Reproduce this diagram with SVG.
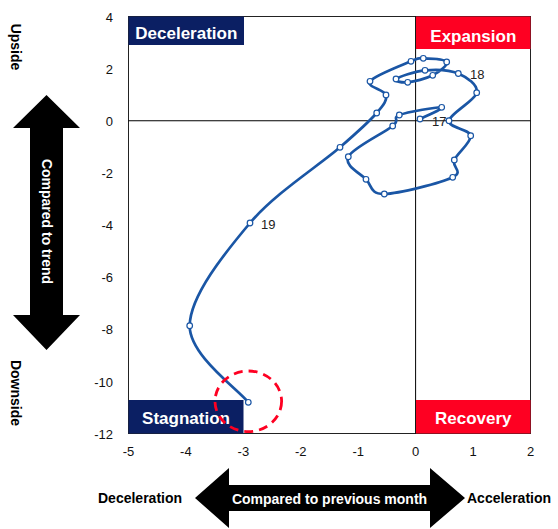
<svg xmlns="http://www.w3.org/2000/svg" width="558" height="529" viewBox="0 0 558 529">
<style>
.tick{font-family:"Liberation Sans",Arial,sans-serif;font-size:13px;fill:#111}
.box{font-family:"Liberation Sans",Arial,sans-serif;font-size:17px;font-weight:bold;fill:#fff;text-anchor:middle}
.lbl{font-family:"Liberation Sans",Arial,sans-serif;font-size:14px;font-weight:bold;fill:#000}
.wl{font-family:"Liberation Sans",Arial,sans-serif;font-size:14px;font-weight:bold;fill:#fff;text-anchor:middle;dominant-baseline:central}
.pt{fill:#fff;stroke:#1a56a5;stroke-width:1.2}
.yr{font-family:"Liberation Sans",Arial,sans-serif;font-size:13px;fill:#222}
</style>
<rect width="558" height="529" fill="#fff"/>
<g id="plot">
<rect x="128.5" y="16.5" width="402" height="417" fill="#fff" stroke="#222" stroke-width="1"/>
<line x1="415.6" y1="16.5" x2="415.6" y2="433.5" stroke="#000" stroke-width="1"/>
<line x1="128.5" y1="120.75" x2="530.5" y2="120.75" stroke="#000" stroke-width="1"/>
</g>
<g id="yticks" class="tick" text-anchor="end">
<text x="113" y="22">4</text>
<text x="113" y="74">2</text>
<text x="113" y="126">0</text>
<text x="113" y="178">-2</text>
<text x="113" y="230">-4</text>
<text x="113" y="282">-6</text>
<text x="113" y="334">-8</text>
<text x="113" y="387">-10</text>
<text x="113" y="439">-12</text>
</g>
<g id="xticks" class="tick" text-anchor="middle">
<text x="128.5" y="456">-5</text>
<text x="185.9" y="456">-4</text>
<text x="243.4" y="456">-3</text>
<text x="300.8" y="456">-2</text>
<text x="358.2" y="456">-1</text>
<text x="415.6" y="456">0</text>
<text x="473.1" y="456">1</text>
<text x="530.5" y="456">2</text>
</g>
<g id="deceleration-box">
<rect x="128.5" y="16.5" width="115.5" height="28.5" fill="#0b1f63"/>
<text class="box" x="186.3" y="39">Deceleration</text>
</g>
<g id="expansion-box">
<rect x="416" y="16.5" width="114.5" height="32.5" fill="#fe0022"/>
<text class="box" x="473.3" y="41.5">Expansion</text>
</g>
<g id="stagnation-box">
<rect x="128.5" y="400" width="115" height="33.5" fill="#0b1f63"/>
<text class="box" x="186" y="424">Stagnation</text>
</g>
<g id="recovery-box">
<rect x="416" y="400" width="114.5" height="33.5" fill="#fe0022"/>
<text class="box" x="473.3" y="424">Recovery</text>
</g>
<g id="connectors">
<path fill="none" stroke="#1a56a5" stroke-width="2.7" stroke-linejoin="round" stroke-linecap="round" d="M420,119 C423.62,117.05 445.15,107.97 441.7,107.3 C438.25,106.63 407.47,111.88 399.3,115 C391.13,118.12 401.2,119.05 392.7,126 C384.2,132.95 352.75,147.82 348.3,156.7 C343.85,165.58 360,173.08 366,179.3 C372,185.52 369.85,194.33 384.3,194 C398.75,193.67 441.03,182.97 452.7,177.3 C464.37,171.63 451.3,166.93 454.3,160 C457.3,153.07 471.58,142.25 470.7,135.7 C469.82,129.15 448,127.87 449,120.7 C450,113.53 475.15,100.57 476.7,92.7 C478.25,84.83 466.92,77.23 458.3,73.5 C449.68,69.77 435.38,69.38 425,70.3 C414.62,71.22 398.88,77 396,79 C393.12,81 401.58,82.92 407.7,82.3 C413.82,81.68 426.2,78.68 432.7,75.3 C439.2,71.92 448.27,64.83 446.7,62 C445.13,59.17 429.25,58.42 423.3,58.3 C417.35,58.18 419.88,57.47 411,61.3 C402.12,65.13 374.17,75.68 370,81.3 C365.83,86.92 384.88,89.72 386,95 C387.12,100.28 384.37,104.28 376.7,113 C369.03,121.72 361.12,128.97 340,147.3 C318.88,165.63 275.05,193.27 250,223 C224.95,252.73 189.98,295.82 189.7,325.7 C189.42,355.58 238.53,389.53 248.3,402.3"/>
</g>
<g id="points">
<circle class="pt" cx="420" cy="119" r="2.8"/>
<circle class="pt" cx="441.7" cy="107.3" r="2.8"/>
<circle class="pt" cx="399.3" cy="115" r="2.8"/>
<circle class="pt" cx="392.7" cy="126" r="2.8"/>
<circle class="pt" cx="348.3" cy="156.7" r="2.8"/>
<circle class="pt" cx="366" cy="179.3" r="2.8"/>
<circle class="pt" cx="384.3" cy="194" r="2.8"/>
<circle class="pt" cx="452.7" cy="177.3" r="2.8"/>
<circle class="pt" cx="454.3" cy="160" r="2.8"/>
<circle class="pt" cx="470.7" cy="135.7" r="2.8"/>
<circle class="pt" cx="449" cy="120.7" r="2.8"/>
<circle class="pt" cx="476.7" cy="92.7" r="2.8"/>
<circle class="pt" cx="458.3" cy="73.5" r="2.8"/>
<circle class="pt" cx="425" cy="70.3" r="2.8"/>
<circle class="pt" cx="396" cy="79" r="2.8"/>
<circle class="pt" cx="407.7" cy="82.3" r="2.8"/>
<circle class="pt" cx="432.7" cy="75.3" r="2.8"/>
<circle class="pt" cx="446.7" cy="62" r="2.8"/>
<circle class="pt" cx="423.3" cy="58.3" r="2.8"/>
<circle class="pt" cx="411" cy="61.3" r="2.8"/>
<circle class="pt" cx="370" cy="81.3" r="2.8"/>
<circle class="pt" cx="386" cy="95" r="2.8"/>
<circle class="pt" cx="376.7" cy="113" r="2.8"/>
<circle class="pt" cx="340" cy="147.3" r="2.8"/>
<circle class="pt" cx="250" cy="223" r="2.8"/>
<circle class="pt" cx="189.7" cy="325.7" r="2.8"/>
<circle class="pt" cx="248.3" cy="402.3" r="2.8"/>
</g>
<g id="year-labels" class="yr">
<text x="432" y="126">17</text>
<text x="470" y="79">18</text>
<text x="261" y="229">19</text>
</g>
<g id="highlight">
<ellipse cx="248.3" cy="401.3" rx="33.3" ry="30.3" fill="none" stroke="#fe0022" stroke-width="2.8" stroke-dasharray="9 6"/>
</g>
<g id="vertical-arrow">
<polygon points="46.5,95 80,128 63,128 63,315 80,315 46.5,350 13,315 30,315 30,128 13,128" fill="#000"/>
<text class="wl" transform="translate(46.5,221.5) rotate(90)">Compared to trend</text>
</g>
<g id="horizontal-arrow">
<polygon points="195,498 229,468 229,485 430,485 430,468 465,498 430,528 430,511 229,511 229,528" fill="#000"/>
<text class="wl" x="329.5" y="499">Compared to previous month</text>
</g>
<g id="axis-labels" class="lbl">
<text transform="translate(16,47) rotate(90)" text-anchor="middle" dominant-baseline="central">Upside</text>
<text transform="translate(16,393) rotate(90)" text-anchor="middle" dominant-baseline="central">Downside</text>
<text x="98" y="503">Deceleration</text>
<text x="467" y="503">Acceleration</text>
</g>
</svg>
